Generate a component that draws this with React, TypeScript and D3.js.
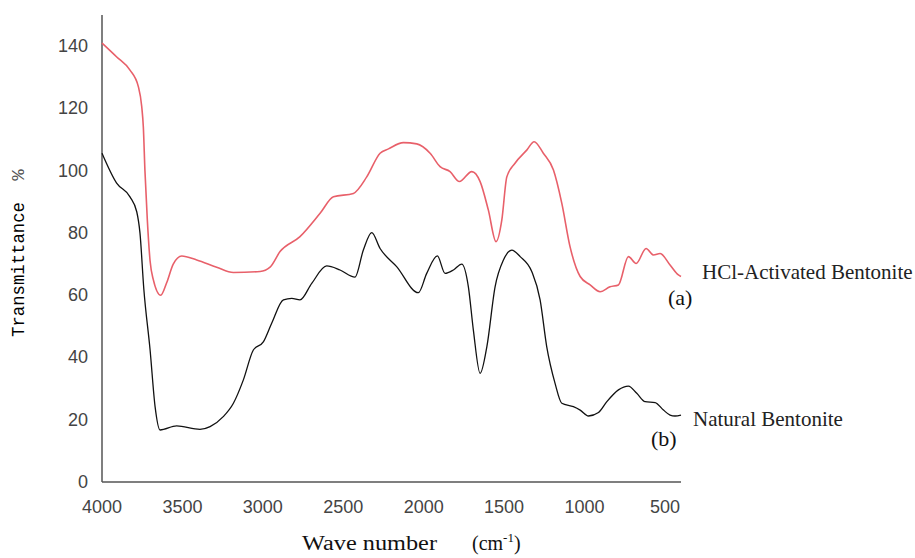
import { line, curveMonotoneX, scaleLinear } from "d3";

const WIDTH = 915;
const HEIGHT = 558;
const PLOT = { left: 102, right: 681, top: 15, bottom: 482 };

// wavenumber (cm-1) / transmittance (%)
const hclWave = [
  4000, 3910, 3826, 3774, 3753, 3743, 3733, 3718, 3701, 3681, 3635, 3598, 3557, 3504, 3411, 3287,
  3183, 3017, 2955, 2893, 2769, 2644, 2561, 2437, 2354, 2271, 2219, 2126, 2043, 1960, 1898, 1836,
  1778, 1701, 1649, 1598, 1550, 1514, 1483, 1432, 1359, 1313, 1256, 1193, 1141, 1090, 1027, 965,
  903, 841, 789, 727, 679, 617, 571, 530, 468, 416, 400,
];
const hclValues = [
  141, 136.6, 132.3, 127, 120.6, 114, 100, 84, 71, 65, 60, 64, 70, 72.6, 71.3, 69,
  67.3, 67.6, 69, 74, 78.8, 86.3, 91.6, 92.7, 98, 105.6, 107, 109, 108.6, 105.6, 101.3, 99.7,
  96.5, 99.7, 96.5, 87.4, 77.2, 84.2, 98, 102.4, 106.6, 109.3, 105.6, 100.2, 89.5, 75.6, 66, 63.3,
  61.1, 62.7, 63.3, 72.4, 70.2, 75, 72.9, 73.4, 69.7, 66.5, 66,
];

const naturalWave = [
  4000, 3909, 3826, 3784, 3764, 3740, 3701, 3670, 3639, 3536, 3391, 3328, 3246, 3183, 3121, 3059,
  2997, 2945, 2872, 2820, 2769, 2696, 2603, 2520, 2427, 2375, 2323, 2271, 2168, 2033, 1981, 1915,
  1867, 1815, 1763, 1722, 1691, 1649, 1607, 1556, 1504, 1452, 1400, 1328, 1276, 1235, 1183, 1141,
  1069, 1027, 975, 913, 861, 789, 727, 675, 623, 561, 509, 468, 437, 400,
];
const naturalValues = [
  105.6, 96, 91.6, 86.8, 80, 62, 42.4, 24.2, 16.7, 18, 16.9, 17.8, 21, 25.3, 32.8, 42.4,
  45, 51, 58.5, 59, 58.5, 63.8, 69.4, 68.1, 65.8, 74.5, 80.1, 75, 69.2, 60.8, 67, 72.6,
  67, 68.1, 70, 62.7, 48.8, 34.9, 43.5, 62.7, 71.3, 74.5, 72.4, 67.6, 58.5, 43.5, 31.7, 25.3,
  24.2, 23.1, 21.2, 22.3, 25.8, 29.6, 30.8, 28.5, 25.8, 25.5, 23.1, 21.5, 21.2, 21.5,
];

const xTicks = [4000, 3500, 3000, 2500, 2000, 1500, 1000, 500];
const yTicks = [0, 20, 40, 60, 80, 100, 120, 140];

const toPoints = (xs: number[], ys: number[]) => xs.map((x, i) => [x, ys[i]] as [number, number]);

export default function App() {
  const xScale = scaleLinear().domain([4000, 400]).range([PLOT.left, PLOT.right]);
  const yScale = scaleLinear().domain([0, 150]).range([PLOT.bottom, PLOT.top]);

  const path = line<[number, number]>()
    .x((d) => xScale(d[0]))
    .y((d) => yScale(d[1]))
    .curve(curveMonotoneX);

  const hclPath = path(toPoints(hclWave, hclValues)) ?? "";
  const naturalPath = path(toPoints(naturalWave, naturalValues)) ?? "";

  const axisColor = "#555";
  const tickColor = "#444";

  return (
    <svg
      width={WIDTH}
      height={HEIGHT}
      viewBox={`0 0 ${WIDTH} ${HEIGHT}`}
      style={{ position: "absolute", left: 0, top: 0, background: "#fff" }}
    >
      <rect x={0} y={0} width={WIDTH} height={HEIGHT} fill="#fff" />

      {/* axes */}
      <line x1={PLOT.left} x2={PLOT.left} y1={PLOT.top} y2={PLOT.bottom} stroke={axisColor} strokeWidth={1.5} />
      <line x1={PLOT.left} x2={PLOT.right} y1={PLOT.bottom} y2={PLOT.bottom} stroke={axisColor} strokeWidth={1.5} />

      {yTicks.map((t) => (
        <text
          key={`y${t}`}
          x={88}
          y={yScale(t)}
          textAnchor="end"
          dominantBaseline="central"
          fontFamily="Liberation Sans, Arial, sans-serif"
          fontSize={18}
          fill={tickColor}
        >
          {t}
        </text>
      ))}
      {xTicks.map((t) => (
        <text
          key={`x${t}`}
          x={xScale(t)}
          y={507}
          textAnchor="middle"
          dominantBaseline="central"
          fontFamily="Liberation Sans, Arial, sans-serif"
          fontSize={18}
          fill={tickColor}
        >
          {t}
        </text>
      ))}

      {/* series */}
      <path d={hclPath} fill="none" stroke="#e8606a" strokeWidth={1.6} strokeLinejoin="round" />
      <path d={naturalPath} fill="none" stroke="#111" strokeWidth={1.3} strokeLinejoin="round" />

      {/* axis titles */}
      <g transform="translate(24,0) rotate(-90)">
        <text
          x={-337}
          y={0}
          fontFamily="Liberation Mono, Courier New, monospace"
          fontSize={18}
          textLength={135}
          lengthAdjust="spacingAndGlyphs"
          fill="#000"
        >
          Transmittance
        </text>
        <text x={-175} y={0} textAnchor="middle" fontFamily="Liberation Mono, Courier New, monospace" fontSize={19} fill="#555">
          %
        </text>
      </g>
      <text
        x={302}
        y={550}
        fontFamily="Liberation Serif, Times New Roman, serif"
        fontSize={20}
        textLength={135}
        lengthAdjust="spacingAndGlyphs"
        fill="#111"
      >
        Wave number
      </text>
      <text x={472} y={550} fontFamily="Liberation Serif, Times New Roman, serif" fontSize={20} fill="#111">
        (cm<tspan dy={-8} fontSize={13}>-1</tspan>
        <tspan dy={8}>)</tspan>
      </text>

      {/* series labels */}
      <text x={702} y={279} fontFamily="Liberation Serif, Times New Roman, serif" fontSize={21} fill="#222">
        HCl-Activated Bentonite
      </text>
      <text x={668} y={305} fontFamily="Liberation Serif, Times New Roman, serif" fontSize={22} fill="#111">
        (a)
      </text>
      <text x={693} y={426} fontFamily="Liberation Serif, Times New Roman, serif" fontSize={21} fill="#222">
        Natural Bentonite
      </text>
      <text x={651} y={446} fontFamily="Liberation Serif, Times New Roman, serif" fontSize={22} fill="#111">
        (b)
      </text>
    </svg>
  );
}
